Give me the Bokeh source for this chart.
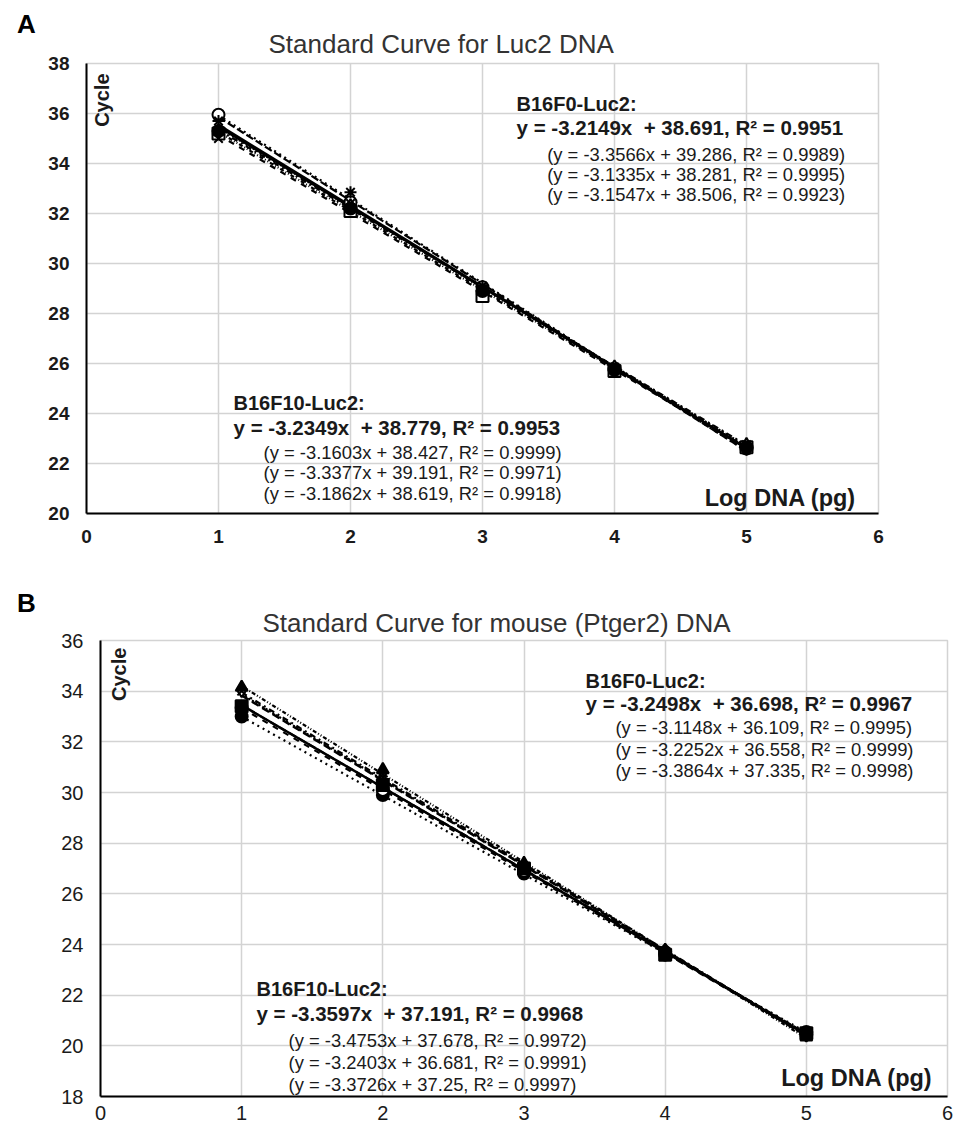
from bokeh.plotting import figure
from bokeh.models import Label, Range1d, FixedTicker, Title, Div
from bokeh.embed import file_html
from bokeh.resources import INLINE

FONT = "Liberation Sans"

# ---------------- data ----------------
log_dna = [1, 2, 3, 4, 5]

# Panel A: Standard curve for Luc2 DNA (cycle values)
a_f0_rep1 = [35.95, 32.45, 29.05, 25.80, 22.60]
a_f0_rep2 = [35.20, 32.10, 28.70, 25.70, 22.65]
a_f0_rep3 = [35.30, 32.30, 28.90, 25.85, 22.75]
a_f10_rep1 = [35.30, 32.20, 28.90, 25.75, 22.65]
a_f10_rep2 = [35.70, 32.85, 29.10, 25.70, 22.55]
a_f10_rep3 = [35.00, 32.40, 29.00, 25.85, 22.75]

a_f0_mean_fit = [-3.2149, 38.691, 0.9951]
a_f0_slopes = [-3.3566, -3.1335, -3.1547]
a_f0_intercepts = [39.286, 38.281, 38.506]
a_f0_r2 = [0.9989, 0.9995, 0.9923]
a_f10_mean_fit = [-3.2349, 38.779, 0.9953]
a_f10_slopes = [-3.1603, -3.3377, -3.1862]
a_f10_intercepts = [38.427, 39.191, 38.619]
a_f10_r2 = [0.9999, 0.9971, 0.9918]

# Panel B: Standard curve for mouse (Ptger2) DNA
b_f0_rep1 = [33.00, 29.90, 26.80, 23.60, 20.55]
b_f0_rep2 = [33.35, 30.10, 26.90, 23.70, 20.45]
b_f0_rep3 = [34.00, 30.50, 27.10, 23.80, 20.40]
b_f10_rep1 = [34.15, 30.90, 27.20, 23.75, 20.35]
b_f10_rep2 = [33.40, 30.30, 27.00, 23.60, 20.50]
b_f10_rep3 = [34.00, 30.60, 27.10, 23.70, 20.45]

b_f0_mean_fit = [-3.2498, 36.698, 0.9967]
b_f0_slopes = [-3.1148, -3.2252, -3.3864]
b_f0_intercepts = [36.109, 36.558, 37.335]
b_f0_r2 = [0.9995, 0.9999, 0.9998]
b_f10_mean_fit = [-3.3597, 37.191, 0.9968]
b_f10_slopes = [-3.4753, -3.2403, -3.3726]
b_f10_intercepts = [37.678, 36.681, 37.25]
b_f10_r2 = [0.9972, 0.9991, 0.9997]

x_ticks = [0, 1, 2, 3, 4, 5, 6]
a_y_ticks = [20, 22, 24, 26, 28, 30, 32, 34, 36, 38]
b_y_ticks = [18, 20, 22, 24, 26, 28, 30, 32, 34, 36]


def eq_text(m, b, r2, paren):
    if paren:
        return f"(y = {m}x + {b}, R\u00b2 = {r2})"
    return f"y = {m}x\u00a0 + {b}, R\u00b2 = {r2}"


def make_panel(width, height, borders, yr, yticks, tick_bold, reps, markers,
               fits, opts):
    left, right, top, bottom = borders
    p = figure(width=width, height=height, output_backend="svg",
               toolbar_location=None, x_range=Range1d(0, 6),
               y_range=Range1d(*yr), min_border_left=left,
               min_border_right=right, min_border_top=top,
               min_border_bottom=bottom)
    p.background_fill_color = "white"
    p.border_fill_color = "white"
    p.outline_line_color = "#d3d3d3"
    p.outline_line_width = 1.5
    for g in (p.xgrid, p.ygrid):
        g.grid_line_color = "#d3d3d3"
        g.grid_line_width = 1.5
    p.xaxis.ticker = FixedTicker(ticks=x_ticks)
    p.yaxis.ticker = FixedTicker(ticks=yticks)
    p.xgrid.ticker = FixedTicker(ticks=x_ticks)
    p.ygrid.ticker = FixedTicker(ticks=yticks)
    for ax in (p.xaxis, p.yaxis):
        ax.axis_line_color = "black"
        ax.axis_line_width = 2
        ax.major_tick_line_color = None
        ax.minor_tick_line_color = None
        ax.major_tick_out = 0
        ax.major_tick_in = 0
        ax.major_label_text_font = FONT
        ax.major_label_text_font_size = "20px" if not tick_bold else "19px"
        ax.major_label_text_color = "#1a1a1a"
        ax.major_label_text_font_style = "bold" if tick_bold else "normal"
    p.yaxis.major_label_standoff = 17
    p.xaxis.major_label_standoff = opts["xstandoff"]

    p.add_layout(Title(text=opts["title"], align="left", offset=opts["title_offset"],
                       text_font=FONT, text_font_size="26px",
                       text_font_style="normal", text_color="#333333",
                       standoff=opts["title_standoff"]), "above")

    # trend lines
    for (m, b), dash, lw in fits:
        xs = [log_dna[0], log_dna[-1]]
        p.line(xs, [m * xs[0] + b, m * xs[1] + b], line_color="black",
               line_width=lw, line_dash=dash)
    # replicate points
    for ys, (mk, filled) in zip(reps, markers):
        p.scatter(log_dna, ys, marker=mk, size=12, line_color="black",
                  line_width=2, fill_color="black" if filled else "white")

    for txt, x, y, size, bold, align, angle in opts["items"]:
        p.add_layout(Label(x=x, y=y, text=txt, text_font=FONT,
                           text_font_size=size, angle=angle,
                           text_font_style="bold" if bold else "normal",
                           text_align=align, text_baseline="middle",
                           text_color="#1a1a1a"))
    return p


def group_lines(slopes, intercepts, r2s):
    return [eq_text(m, b, r, True) for m, b, r in zip(slopes, intercepts, r2s)]


def panel_letter(letter, top_px):
    return Div(text='<span style="font-family: \'Liberation Sans\', Arial, sans-serif; '
                    'font-size: 26px; font-weight: bold; color: black; '
                    f'line-height: 30px;">{letter}</span>',
               width=30, height=30,
               styles={"position": "absolute", "left": "12px", "top": f"{top_px}px"})


rep_dashes = ["dotted", "dashed", "dashdot", "4 2 1 2 1 2", "8 3", "2 2"]
ROT = 1.5708
SUB = "18.4px"
HEAD = "20px"
EQ = "20.5px"
AXT = "23.5px"

# ---------------- panel A ----------------
a_reps = [a_f0_rep1, a_f0_rep2, a_f0_rep3, a_f10_rep1, a_f10_rep2, a_f10_rep3]
a_markers = [("circle", False), ("square", False), ("triangle", False),
             ("circle", True), ("asterisk", False), ("x", False)]
a_fits = [((m, b), d, 2.2) for (m, b), d in zip(
    list(zip(a_f0_slopes, a_f0_intercepts)) + list(zip(a_f10_slopes, a_f10_intercepts)),
    rep_dashes)]
a_fits += [((a_f0_mean_fit[0], a_f0_mean_fit[1]), "solid", 2.5),
           ((a_f10_mean_fit[0], a_f10_mean_fit[1]), "solid", 2.5)]

a_f0_sub = group_lines(a_f0_slopes, a_f0_intercepts, a_f0_r2)
a_f10_sub = group_lines(a_f10_slopes, a_f10_intercepts, a_f10_r2)
a_items = [
    ("Cycle", 0.115, 37.6, "20px", True, "right", ROT),
    ("Log DNA (pg)", 5.83, 20.62, AXT, True, "right", 0),
    ("B16F0-Luc2:", 3.258, 36.4, HEAD, True, "left", 0),
    (eq_text(*a_f0_mean_fit, False), 3.258, 35.44, EQ, True, "left", 0),
    (a_f0_sub[0], 3.49, 34.36, SUB, False, "left", 0),
    (a_f0_sub[1], 3.49, 33.56, SUB, False, "left", 0),
    (a_f0_sub[2], 3.49, 32.76, SUB, False, "left", 0),
    ("B16F10-Luc2:", 1.114, 24.44, HEAD, True, "left", 0),
    (eq_text(*a_f10_mean_fit, False), 1.114, 23.44, EQ, True, "left", 0),
    (a_f10_sub[0], 1.341, 22.44, SUB, False, "left", 0),
    (a_f10_sub[1], 1.341, 21.64, SUB, False, "left", 0),
    (a_f10_sub[2], 1.341, 20.82, SUB, False, "left", 0),
]

pa = make_panel(953, 566, (86, 75, 63, 53), (20, 38), a_y_ticks, True,
                a_reps, a_markers, a_fits,
                {"xstandoff": 16, "items": a_items,
                 "title": "Standard Curve for Luc2 DNA", "title_offset": 182,
                 "title_standoff": 10})

# ---------------- panel B ----------------
b_reps = [b_f0_rep1, b_f0_rep2, b_f0_rep3, b_f10_rep1, b_f10_rep2, b_f10_rep3]
b_markers = [("circle", True), ("circle", False), ("diamond", False),
             ("triangle", True), ("square", True), ("x", False)]
b_fits = [((m, b), d, 2.2) for (m, b), d in zip(
    list(zip(b_f0_slopes, b_f0_intercepts)) + list(zip(b_f10_slopes, b_f10_intercepts)),
    rep_dashes)]
b_fits += [((b_f0_mean_fit[0], b_f0_mean_fit[1]), "solid", 2.5),
           ((b_f10_mean_fit[0], b_f10_mean_fit[1]), "8 4", 2.5)]

b_f0_sub = group_lines(b_f0_slopes, b_f0_intercepts, b_f0_r2)
b_f10_sub = group_lines(b_f10_slopes, b_f10_intercepts, b_f10_r2)
b_items = [
    ("Cycle", 0.128, 35.72, "20px", True, "right", ROT),
    ("Log DNA (pg)", 5.894, 18.75, AXT, True, "right", 0),
    ("B16F0-Luc2:", 3.436, 34.42, HEAD, True, "left", 0),
    (eq_text(*b_f0_mean_fit, False), 3.436, 33.51, EQ, True, "left", 0),
    (b_f0_sub[0], 3.648, 32.57, SUB, False, "left", 0),
    (b_f0_sub[1], 3.648, 31.70, SUB, False, "left", 0),
    (b_f0_sub[2], 3.648, 30.87, SUB, False, "left", 0),
    ("B16F10-Luc2:", 1.105, 22.26, HEAD, True, "left", 0),
    (eq_text(*b_f10_mean_fit, False), 1.105, 21.27, EQ, True, "left", 0),
    (b_f10_sub[0], 1.332, 20.20, SUB, False, "left", 0),
    (b_f10_sub[1], 1.332, 19.34, SUB, False, "left", 0),
    (b_f10_sub[2], 1.332, 18.47, SUB, False, "left", 0),
]

pb = make_panel(953, 562, (100, 6, 74, 32), (18, 36), b_y_ticks, False,
                b_reps, b_markers, b_fits,
                {"xstandoff": 9, "items": b_items,
                 "title": "Standard Curve for mouse (Ptger2) DNA", "title_offset": 162,
                 "title_standoff": 6})

letter_a = panel_letter("A", 4)
letter_b = panel_letter("B", 583)

open("out.html", "w").write(file_html([pa, pb, letter_a, letter_b], INLINE))
